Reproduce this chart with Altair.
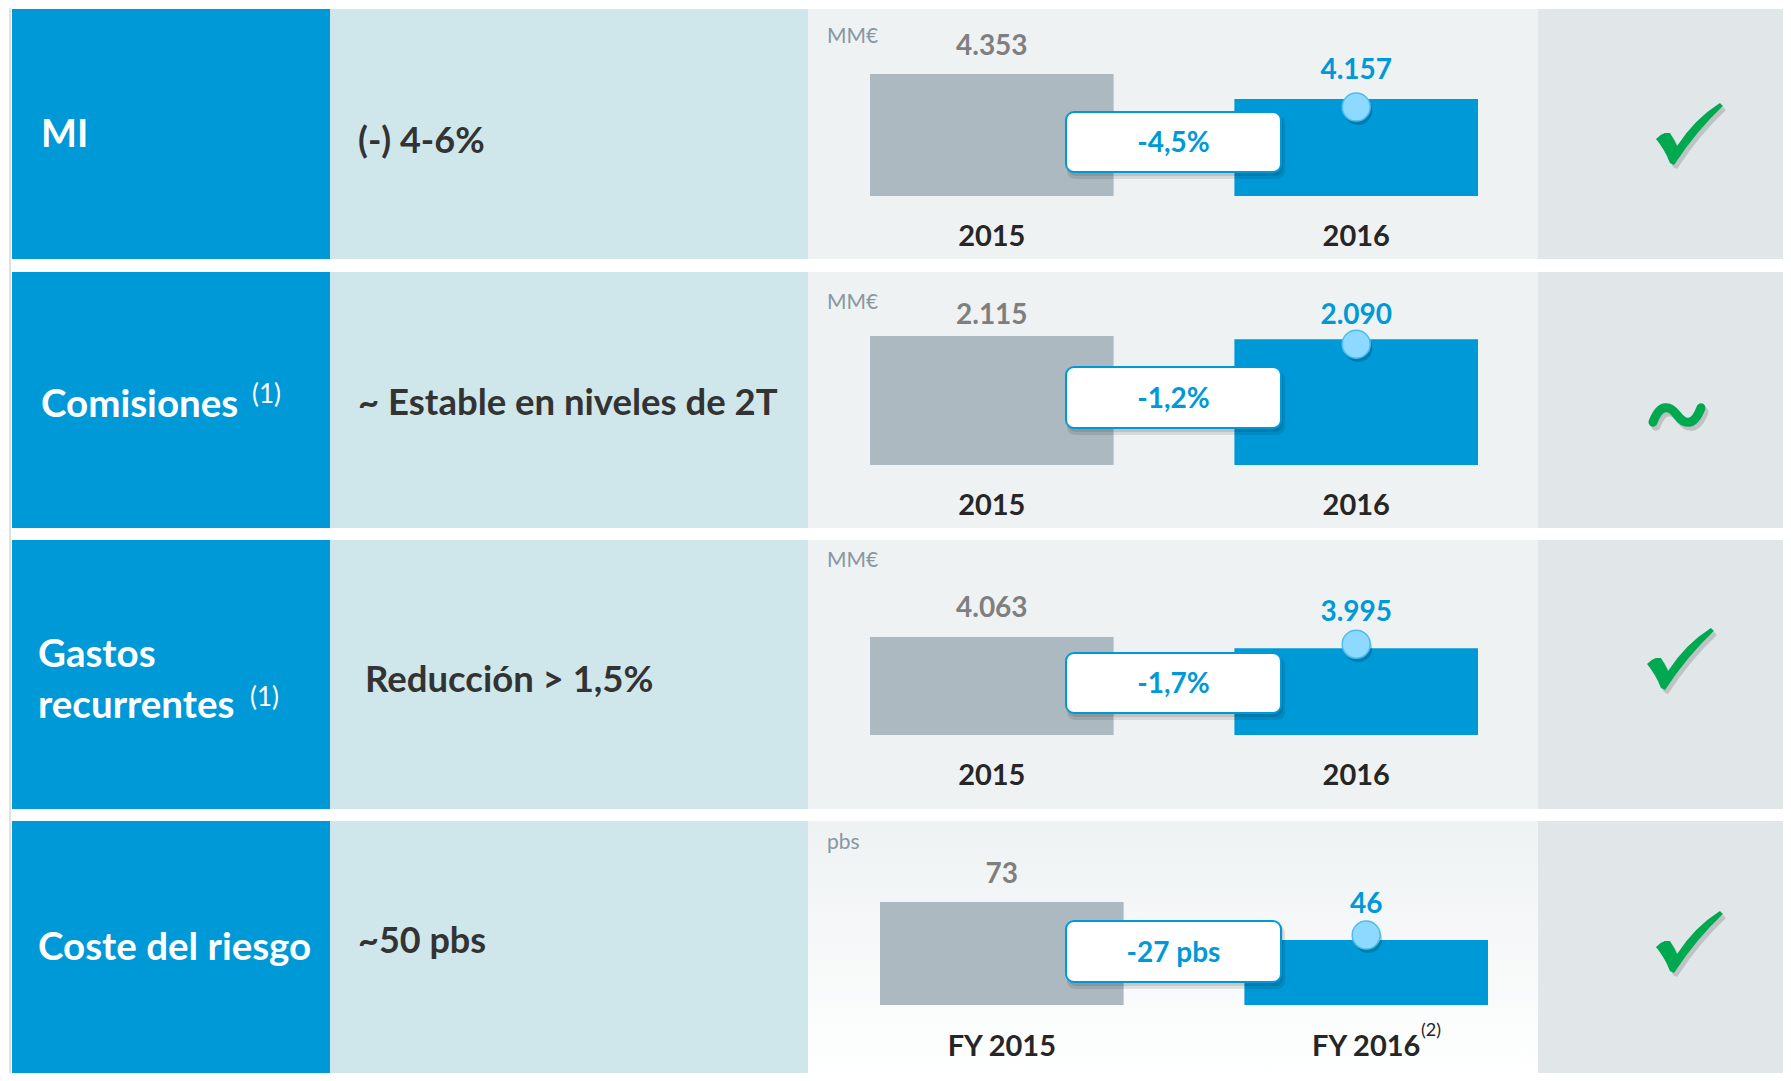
import altair as alt
import pandas as pd

# ---------------- data ----------------
metrics_l1 = ["MI", "Comisiones", "Gastos", "Coste del riesgo"]
metrics_l2 = ["", "", "recurrentes", ""]
metric_notes = ["", "(1)", "(1)", ""]
targets = ["(-) 4-6%", "~ Estable en niveles de 2T", "Reducción > 1,5%", "~50 pbs"]
units = ["MM€", "MM€", "MM€", "pbs"]
years = [["2015", "2016"], ["2015", "2016"], ["2015", "2016"], ["FY 2015", "FY 2016"]]
values_prev = [4353, 2115, 4063, 73]
values_curr = [4157, 2090, 3995, 46]
text_prev = ["4.353", "2.115", "4.063", "73"]
text_curr = ["4.157", "2.090", "3.995", "46"]
changes = ["-4,5%", "-1,2%", "-1,7%", "-27 pbs"]
status = ["check", "tilde", "check", "check"]

# ---------------- style / layout ----------------
FONT = "Lato"
BLUE = "#0099D8"
TEAL = "#CFE7EB"
PANEL = "#EEF2F3"
SIDE = "#E1E6E9"
GRAY_BAR = "#ADB9C0"
VAL_GRAY = "#7F7F7F"
DARK = "#333333"
YEAR_C = "#262626"
UNIT_C = "#8797A2"
DOT = "#8DD9FF"
DOT_STROKE = "#4DBDEB"
GREEN = "#00A94F"

M = 8
W, H = 1775, 1065


def px(v):
    return v - M


row_top = [9, 272, 540, 821]
row_bot = [259, 528, 809, 1081]
col_x = [12, 330, 808, 1538, 1791]
col_fill = [BLUE, TEAL, PANEL, SIDE]

# scale settings of each mini bar chart (page pixels)
bar_left = [870, 870, 870, 880]
bar_right = [1478, 1478, 1478, 1488]
axis_lo = [3400, 1100, 3470, 0]
axis_hi = [4400, 2200, 4170, 80]
base_px = [196, 465, 735, 1005]
hi_px = [68.0, 325.2, 619.3, 892.1]
prev_dy = [-19, -12, -20, -19]
curr_dy = [-20, -15, -27, -27]
dot_off = [8, 5, -4, -5]
year_base = [246, 515, 785, 1056]
unit_base = [43, 309, 567, 849]
box_y = [(112, 172), (367, 428), (653, 713), (921, 982)]
box_x = (1066, 1281)
status_xy = [(1690, 134), (1677, 415), (1681, 659), (1690, 942)]

ONE = alt.Data(values=[{"a": 1}])

layers = []

# backgrounds
panels = pd.DataFrame([
    {"x": px(col_x[c]), "x2": px(col_x[c + 1]), "y": px(row_top[r]), "y2": px(row_bot[r]), "fill": col_fill[c]}
    for r in range(4) for c in range(4) if not (r == 3 and c == 2)
])
layers.append(
    alt.Chart(panels).mark_rect().encode(
        x=alt.X("x:Q", scale=None), x2="x2:Q",
        y=alt.Y("y:Q", scale=None), y2="y2:Q",
        fill=alt.Fill("fill:N", scale=None),
    )
)
layers.append(
    alt.Chart(ONE).mark_rect(
        fill={"gradient": "linear", "x1": 0, "y1": 0, "x2": 0, "y2": 1,
              "stops": [{"offset": 0, "color": PANEL}, {"offset": 1, "color": "#FFFFFF"}]}
    ).encode(x=alt.value(px(808)), x2=alt.value(px(1538)), y=alt.value(px(821)), y2=alt.value(px(1081)))
)
layers.append(
    alt.Chart(ONE).mark_rule(color="#D6D6D6", strokeWidth=1.5).encode(
        x=alt.value(px(10)), y=alt.value(0), y2=alt.value(H))
)


def label(text, x, y, size, color, weight="bold", align="left"):
    return alt.Chart(ONE).mark_text(
        font=FONT, fontSize=size, fontWeight=weight, color=color, align=align, baseline="alphabetic"
    ).encode(x=alt.value(px(x)), y=alt.value(px(y)), text=alt.value(text))


# first column
layers.append(label(metrics_l1[0], 41, 147, 38, "white"))
layers.append(label(metrics_l1[1], 41, 417, 38.5, "white"))
layers.append(label(metric_notes[1], 252, 403, 26, "white", weight="normal"))
layers.append(label(metrics_l1[2], 38, 667, 38.5, "white"))
layers.append(label(metrics_l2[2], 38, 718, 38.5, "white"))
layers.append(label(metric_notes[2], 250, 706, 26, "white", weight="normal"))
layers.append(label(metrics_l1[3], 38, 960, 38.5, "white"))

# second column
tx = [358, 358, 365, 358]
tb = [153, 415, 692, 953]
tsize = [36, 36.5, 36.5, 36]
for i in range(4):
    layers.append(label(targets[i], tx[i], tb[i], tsize[i], DARK))

# bar charts
for i in range(4):
    df = pd.DataFrame({
        "year": years[i],
        "value": [values_prev[i], values_curr[i]],
        "vtext": [text_prev[i], text_curr[i]],
        "kind": ["prev", "curr"],
    })
    xs = alt.Scale(type="band", domain=years[i], range=[px(bar_left[i]), px(bar_right[i])],
                   paddingInner=0.3315, paddingOuter=0)
    ys = alt.Scale(domain=[axis_lo[i], axis_hi[i]], range=[px(base_px[i]), px(hi_px[i])],
                   zero=False, nice=False)
    X = alt.X("year:N", scale=xs, axis=None)
    Y = alt.Y("value:Q", scale=ys, axis=None)
    b = alt.Chart(df)
    layers.append(b.mark_bar().encode(
        X, Y, y2=alt.datum(axis_lo[i]),
        color=alt.Color("kind:N", scale=alt.Scale(domain=["prev", "curr"], range=[GRAY_BAR, BLUE]), legend=None)))
    layers.append(b.transform_filter("datum.kind == 'prev'").mark_text(
        font=FONT, fontSize=28, fontWeight="bold", color=VAL_GRAY, baseline="alphabetic", dy=prev_dy[i]
    ).encode(X, Y, text="vtext:N"))
    layers.append(b.transform_filter("datum.kind == 'curr'").mark_text(
        font=FONT, fontSize=28, fontWeight="bold", color=BLUE, baseline="alphabetic", dy=curr_dy[i]
    ).encode(X, Y, text="vtext:N"))
    layers.append(b.mark_text(
        font=FONT, fontSize=29, fontWeight="bold", color=YEAR_C, baseline="alphabetic"
    ).encode(X, y=alt.value(px(year_base[i])), text="year:N"))
    # change box with shadow
    layers.append(alt.Chart(ONE).mark_rect(cornerRadius=8, color="#000000", opacity=0.10).encode(
        x=alt.value(px(box_x[0] + 1)), x2=alt.value(px(box_x[1] + 4)),
        y=alt.value(px(box_y[i][0] + 4)), y2=alt.value(px(box_y[i][1] + 7))))
    layers.append(alt.Chart(ONE).mark_rect(cornerRadius=8, color="#000000", opacity=0.10).encode(
        x=alt.value(px(box_x[0] + 2)), x2=alt.value(px(box_x[1] + 2)),
        y=alt.value(px(box_y[i][0] + 2)), y2=alt.value(px(box_y[i][1] + 4))))
    layers.append(alt.Chart(ONE).mark_rect(cornerRadius=8, fill="white", stroke=BLUE, strokeWidth=2).encode(
        x=alt.value(px(box_x[0])), x2=alt.value(px(box_x[1])),
        y=alt.value(px(box_y[i][0])), y2=alt.value(px(box_y[i][1]))))
    layers.append(label(changes[i], (box_x[0] + box_x[1]) / 2, (box_y[i][0] + box_y[i][1]) / 2 + 10,
                        28, BLUE, align="center"))
    # dot on current bar
    layers.append(b.transform_filter("datum.kind == 'curr'").mark_point(
        shape="circle", filled=True, size=784, color="#000000", opacity=0.18,
        xOffset=2, yOffset=dot_off[i] + 4).encode(X, Y))
    layers.append(b.transform_filter("datum.kind == 'curr'").mark_point(
        shape="circle", filled=True, size=784, fill=DOT, stroke=DOT_STROKE, strokeWidth=1.5, opacity=1,
        yOffset=dot_off[i]).encode(X, Y))
    # unit
    layers.append(label(units[i], 827, unit_base[i], 21, UNIT_C, weight="normal"))

layers.append(alt.Chart(ONE).mark_text(
    font=FONT, fontSize=18, color=YEAR_C, align="left", baseline="alphabetic"
).encode(x=alt.value(px(1421)), y=alt.value(px(1036)), text=alt.value("(2)")))

# status marks
CHECK = ("M -1 0.15 Q -0.9 0.02 -0.74 -0.03 L -0.59 -0.03 Q -0.5 0.1 -0.38 0.35 "
         "Q 0.15 -0.45 0.88 -0.91 L 0.97 -0.82 Q 0.2 -0.1 -0.47 0.91 L -0.59 0.85 Q -0.75 0.45 -1 0.15 Z")
TILDE = "M -1 0.3 C -0.7 -0.5 -0.3 -0.4 0 0 C 0.3 0.4 0.7 0.5 1 -0.3"
for i in range(4):
    sx, sy = status_xy[i]
    if status[i] == "check":
        layers.append(alt.Chart(ONE).mark_point(shape=CHECK, filled=True, size=4624, color="#000000",
                                                opacity=0.15).encode(x=alt.value(px(sx + 3)), y=alt.value(px(sy + 4))))
        layers.append(alt.Chart(ONE).mark_point(shape=CHECK, filled=True, size=4624, color=GREEN,
                                                opacity=1).encode(x=alt.value(px(sx)), y=alt.value(px(sy))))
    else:
        layers.append(alt.Chart(ONE).mark_point(shape=TILDE, filled=False, size=2304, color="#000000",
                                                opacity=0.15, strokeWidth=9, strokeCap="round").encode(
            x=alt.value(px(sx + 3)), y=alt.value(px(sy + 4))))
        layers.append(alt.Chart(ONE).mark_point(shape=TILDE, filled=False, size=2304, color=GREEN,
                                                opacity=1, strokeWidth=9, strokeCap="round").encode(
            x=alt.value(px(sx)), y=alt.value(px(sy))))

chart = alt.layer(*layers).resolve_scale(
    x="independent", y="independent", color="independent"
).properties(
    width=W, height=H, autosize=alt.AutoSizeParams(type="none"), padding=0, background="white"
).configure_view(stroke=None)

chart.save("out.html", embed_options={"renderer": "svg", "actions": False})
